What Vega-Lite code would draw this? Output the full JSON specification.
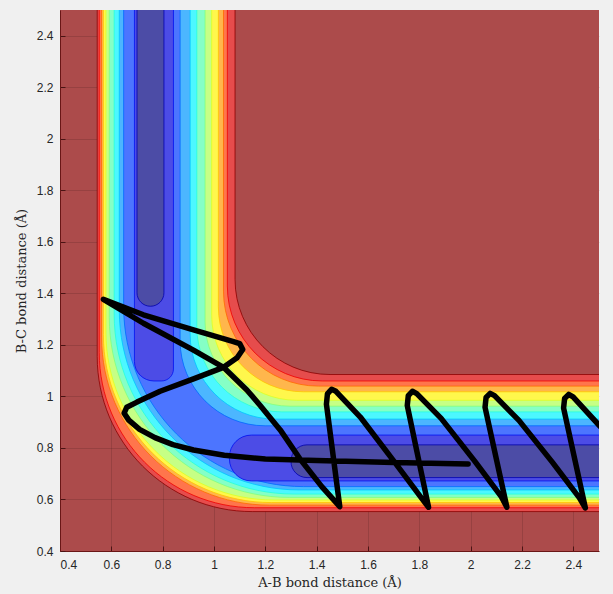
{
  "$schema": "https://vega.github.io/schema/vega-lite/v6.json",
  "width": 539,
  "height": 541,
  "autosize": {"type": "none"},
  "padding": {"left": 60, "top": 10, "right": 14, "bottom": 43},
  "background": "#F0F0F0",
  "view": {"fill": "#AC4B4B", "stroke": null},
  "config": {
    "axis": {
      "grid": true,
      "gridColor": "#000000",
      "gridOpacity": 0.12,
      "zindex": 1,
      "domain": true,
      "domainColor": "#6A1616",
      "domainWidth": 1,
      "tickColor": "#4A1414",
      "tickSize": -5,
      "labelFont": "Liberation Sans",
      "labelFontSize": 12,
      "labelColor": "#262626",
      "titleFont": "DejaVu Serif",
      "titleFontSize": 13,
      "titleFontWeight": "normal",
      "titleColor": "#262626"
    },
    "axisX": {"labelPadding": 13, "titlePadding": 6},
    "axisY": {"labelPadding": 12, "titlePadding": 8}
  },
  "datasets": {
    "walls": [
      {"level": 1, "band": 1, "x": 0.545, "y": 0.553},
      {"level": 2, "band": 2, "x": 0.553, "y": 0.568},
      {"level": 3, "band": 3, "x": 0.562, "y": 0.578},
      {"level": 4, "band": 4, "x": 0.569, "y": 0.588},
      {"level": 5, "band": 5, "x": 0.579, "y": 0.598},
      {"level": 6, "band": 6, "x": 0.592, "y": 0.608},
      {"level": 7, "band": 7, "x": 0.611, "y": 0.621},
      {"level": 8, "band": 8, "x": 0.631, "y": 0.637},
      {"level": 9, "band": 9, "x": 0.648, "y": 0.650}
    ],
    "plateau": [
      {"level": 9, "band": 8, "x": 0.868, "y": 0.886},
      {"level": 8, "band": 7, "x": 0.907, "y": 0.912},
      {"level": 7, "band": 6, "x": 0.933, "y": 0.940},
      {"level": 6, "band": 5, "x": 0.965, "y": 0.962},
      {"level": 5, "band": 4, "x": 0.991, "y": 0.985},
      {"level": 4, "band": 3, "x": 1.017, "y": 1.018},
      {"level": 3, "band": 2, "x": 1.037, "y": 1.040},
      {"level": 2, "band": 1, "x": 1.052, "y": 1.060},
      {"level": 1, "band": 0, "x": 1.082, "y": 1.085}
    ],
    "upArms": [
      {"level": 10, "band": 10, "x": 0.690, "xEnd": 0.842, "y": 1.06},
      {"level": 11, "band": 11, "x": 0.700, "xEnd": 0.805, "y": 1.35}
    ],
    "outArms": [
      {"level": 10, "band": 10, "x": 1.06, "y": 0.672, "yEnd": 0.850},
      {"level": 11, "band": 11, "x": 1.30, "y": 0.685, "yEnd": 0.812}
    ],
    "path": [
      {"step": 1, "x": 1.99, "y": 0.738},
      {"step": 2, "x": 1.70, "y": 0.744},
      {"step": 3, "x": 1.40, "y": 0.751},
      {"step": 4, "x": 1.20, "y": 0.757},
      {"step": 5, "x": 1.04, "y": 0.772},
      {"step": 6, "x": 0.92, "y": 0.792},
      {"step": 7, "x": 0.84, "y": 0.813},
      {"step": 8, "x": 0.77, "y": 0.840},
      {"step": 9, "x": 0.71, "y": 0.872},
      {"step": 10, "x": 0.668, "y": 0.908},
      {"step": 11, "x": 0.650, "y": 0.935},
      {"step": 12, "x": 0.660, "y": 0.958},
      {"step": 13, "x": 0.700, "y": 0.978},
      {"step": 14, "x": 0.790, "y": 1.020},
      {"step": 15, "x": 0.920, "y": 1.068},
      {"step": 16, "x": 1.037, "y": 1.113},
      {"step": 17, "x": 1.090, "y": 1.150},
      {"step": 18, "x": 1.112, "y": 1.182},
      {"step": 19, "x": 1.100, "y": 1.205},
      {"step": 20, "x": 1.076, "y": 1.213},
      {"step": 21, "x": 0.920, "y": 1.258},
      {"step": 22, "x": 0.725, "y": 1.317},
      {"step": 23, "x": 0.569, "y": 1.377},
      {"step": 24, "x": 0.725, "y": 1.284},
      {"step": 25, "x": 0.920, "y": 1.180},
      {"step": 26, "x": 1.037, "y": 1.113},
      {"step": 27, "x": 1.128, "y": 1.025},
      {"step": 28, "x": 1.180, "y": 0.965},
      {"step": 29, "x": 1.258, "y": 0.870},
      {"step": 30, "x": 1.336, "y": 0.756},
      {"step": 31, "x": 1.420, "y": 0.650},
      {"step": 32, "x": 1.490, "y": 0.572},
      {"step": 33, "x": 1.438, "y": 0.970},
      {"step": 34, "x": 1.442, "y": 1.010},
      {"step": 35, "x": 1.458, "y": 1.028},
      {"step": 36, "x": 1.475, "y": 1.020},
      {"step": 37, "x": 1.570, "y": 0.920},
      {"step": 38, "x": 1.700, "y": 0.750},
      {"step": 39, "x": 1.805, "y": 0.610},
      {"step": 40, "x": 1.836, "y": 0.570},
      {"step": 41, "x": 1.753, "y": 0.965},
      {"step": 42, "x": 1.757, "y": 1.003},
      {"step": 43, "x": 1.773, "y": 1.020},
      {"step": 44, "x": 1.790, "y": 1.011},
      {"step": 45, "x": 1.885, "y": 0.915},
      {"step": 46, "x": 2.015, "y": 0.750},
      {"step": 47, "x": 2.120, "y": 0.610},
      {"step": 48, "x": 2.141, "y": 0.570},
      {"step": 49, "x": 2.056, "y": 0.958},
      {"step": 50, "x": 2.060, "y": 0.996},
      {"step": 51, "x": 2.076, "y": 1.012},
      {"step": 52, "x": 2.093, "y": 1.003},
      {"step": 53, "x": 2.188, "y": 0.907},
      {"step": 54, "x": 2.318, "y": 0.745},
      {"step": 55, "x": 2.423, "y": 0.607},
      {"step": 56, "x": 2.447, "y": 0.567},
      {"step": 57, "x": 2.362, "y": 0.955},
      {"step": 58, "x": 2.366, "y": 0.992},
      {"step": 59, "x": 2.382, "y": 1.008},
      {"step": 60, "x": 2.399, "y": 0.998},
      {"step": 61, "x": 2.505, "y": 0.883},
      {"step": 62, "x": 2.560, "y": 0.820}
    ]
  },
  "encoding": {
    "x": {
      "field": "x",
      "type": "quantitative",
      "scale": {"domain": [0.4, 2.5], "nice": false, "zero": false},
      "axis": {"title": "A-B bond distance (Å)", "values": [0.4, 0.6, 0.8, 1, 1.2, 1.4, 1.6, 1.8, 2, 2.2, 2.4], "format": "~g"}
    },
    "y": {
      "field": "y",
      "type": "quantitative",
      "scale": {"domain": [0.4, 2.5], "nice": false, "zero": false},
      "axis": {"title": "B-C bond distance (Å)", "values": [0.4, 0.6, 0.8, 1, 1.2, 1.4, 1.6, 1.8, 2, 2.2, 2.4], "format": "~g"}
    }
  },
  "layer": [
    {
      "data": {"name": "walls"},
      "transform": [{"filter": "datum.level <= 2"}],
      "mark": {"type": "rect", "clip": true, "strokeWidth": 0.8, "cornerRadiusBottomLeft": 155},
      "encoding": {
        "x2": {"datum": 2.6},
        "y2": {"datum": 2.6},
        "fill": {"field": "band", "type": "ordinal", "legend": null, "scale": {"domain": [0, 1, 2, 3, 4, 5, 6, 7, 8, 9, 10, 11], "range": ["#AC4B4B", "#E64C4C", "#FF754C", "#FFB64C", "#FFF74C", "#C6FF85", "#85FFC6", "#4CF7FF", "#4CB6FF", "#4C75FF", "#4C4CE6", "#4C4CA6"]}},
        "stroke": {"field": "level", "type": "ordinal", "legend": null, "scale": {"domain": [1, 2, 3, 4, 5, 6, 7, 8, 9, 10, 11], "range": ["#8C0000", "#F00000", "#FF6900", "#FFC500", "#DCFF23", "#80FF80", "#23FFDC", "#00C5FF", "#0069FF", "#0010F0", "#0000AE"]}}
      }
    },
    {
      "data": {"name": "walls"},
      "transform": [{"filter": "datum.level >= 3 && datum.level <= 5"}],
      "mark": {"type": "rect", "clip": true, "strokeWidth": 0.8, "cornerRadiusBottomLeft": 168},
      "encoding": {
        "x2": {"datum": 2.6},
        "y2": {"datum": 2.6},
        "fill": {"field": "band", "type": "ordinal", "legend": null},
        "stroke": {"field": "level", "type": "ordinal", "legend": null}
      }
    },
    {
      "data": {"name": "walls"},
      "transform": [{"filter": "datum.level >= 6"}],
      "mark": {"type": "rect", "clip": true, "strokeWidth": 0.8, "cornerRadiusBottomLeft": 180},
      "encoding": {
        "x2": {"datum": 2.6},
        "y2": {"datum": 2.6},
        "fill": {"field": "band", "type": "ordinal", "legend": null},
        "stroke": {"field": "level", "type": "ordinal", "legend": null}
      }
    },
    {
      "data": {"name": "plateau"},
      "transform": [{"filter": "datum.level >= 4"}],
      "mark": {"type": "rect", "clip": true, "strokeWidth": 0.8, "cornerRadiusBottomLeft": 85},
      "encoding": {
        "x2": {"datum": 2.6},
        "y2": {"datum": 2.6},
        "fill": {"field": "band", "type": "ordinal", "legend": null},
        "stroke": {"field": "level", "type": "ordinal", "legend": null}
      }
    },
    {
      "data": {"name": "plateau"},
      "transform": [{"filter": "datum.level <= 3"}],
      "mark": {"type": "rect", "clip": true, "strokeWidth": 0.8, "cornerRadiusBottomLeft": 95},
      "encoding": {
        "x2": {"datum": 2.6},
        "y2": {"datum": 2.6},
        "fill": {"field": "band", "type": "ordinal", "legend": null},
        "stroke": {"field": "level", "type": "ordinal", "legend": null}
      }
    },
    {
      "data": {"name": "upArms"},
      "transform": [{"filter": "datum.level == 10"}],
      "mark": {"type": "rect", "clip": true, "strokeWidth": 0.8, "cornerRadiusBottomLeft": 30, "cornerRadiusBottomRight": 12},
      "encoding": {
        "x2": {"field": "xEnd"},
        "y2": {"datum": 2.6},
        "fill": {"field": "band", "type": "ordinal", "legend": null},
        "stroke": {"field": "level", "type": "ordinal", "legend": null}
      }
    },
    {
      "data": {"name": "outArms"},
      "transform": [{"filter": "datum.level == 10"}],
      "mark": {"type": "rect", "clip": true, "strokeWidth": 0.8, "cornerRadiusTopLeft": 22, "cornerRadiusBottomLeft": 22},
      "encoding": {
        "x2": {"datum": 2.6},
        "y2": {"field": "yEnd"},
        "fill": {"field": "band", "type": "ordinal", "legend": null},
        "stroke": {"field": "level", "type": "ordinal", "legend": null}
      }
    },
    {
      "data": {"name": "upArms"},
      "transform": [{"filter": "datum.level == 11"}],
      "mark": {"type": "rect", "clip": true, "strokeWidth": 0.8, "cornerRadiusBottomLeft": 16, "cornerRadiusBottomRight": 16},
      "encoding": {
        "x2": {"field": "xEnd"},
        "y2": {"datum": 2.6},
        "fill": {"field": "band", "type": "ordinal", "legend": null},
        "stroke": {"field": "level", "type": "ordinal", "legend": null}
      }
    },
    {
      "data": {"name": "outArms"},
      "transform": [{"filter": "datum.level == 11"}],
      "mark": {"type": "rect", "clip": true, "strokeWidth": 0.8, "cornerRadiusTopLeft": 16, "cornerRadiusBottomLeft": 16},
      "encoding": {
        "x2": {"datum": 2.6},
        "y2": {"field": "yEnd"},
        "fill": {"field": "band", "type": "ordinal", "legend": null},
        "stroke": {"field": "level", "type": "ordinal", "legend": null}
      }
    },
    {
      "data": {"name": "path"},
      "mark": {"type": "line", "clip": true, "color": "#000000", "strokeWidth": 5.5, "strokeJoin": "round", "strokeCap": "round"},
      "encoding": {
        "order": {"field": "step", "type": "quantitative"}
      }
    }
  ]
}
